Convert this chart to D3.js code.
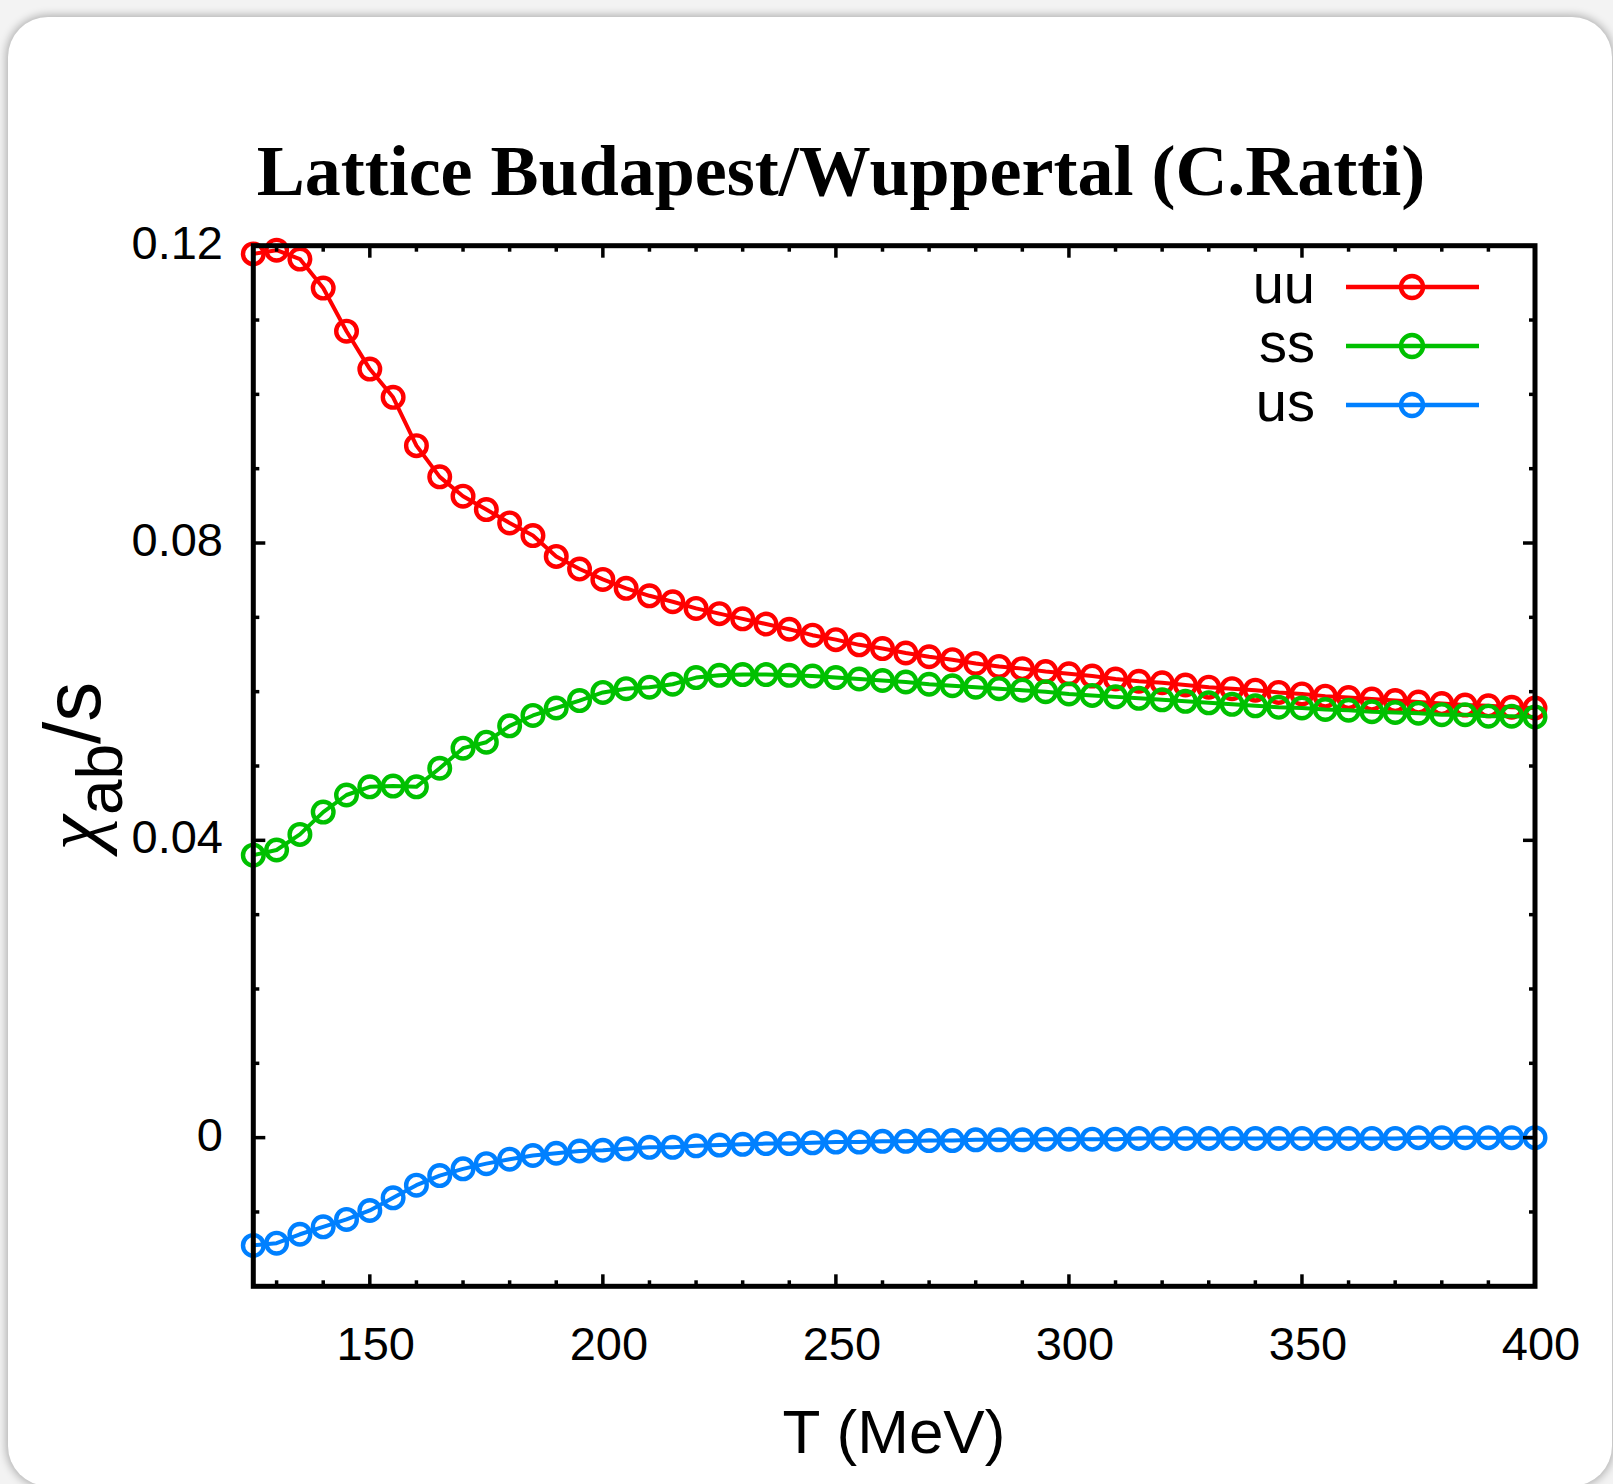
<!DOCTYPE html>
<html>
<head>
<meta charset="utf-8">
<script src="https://cdn.jsdelivr.net/npm/d3@7"></script>
<style>
  html, body { margin: 0; padding: 0; background: #f3f3f3; width: 1613px; height: 1484px; overflow: hidden; }
  #card { position: absolute; left: 8px; top: 17px; width: 1604px; height: 1469px; background: #fff;
          border-radius: 40px; box-shadow: 0 0 9px 2px rgba(0,0,0,0.28); }
  svg { position: absolute; left: 0; top: 0; }
</style>
</head>
<body>
<div id="card"></div>
<svg id="chart" width="1613" height="1484"></svg>
<script>
// ---- data ----
const temperatures = [125,130,135,140,145,150,155,160,165,170,175,180,185,190,195,200,205,210,215,220,
  225,230,235,240,245,250,255,260,265,270,275,280,285,290,295,300,305,310,315,320,
  325,330,335,340,345,350,355,360,365,370,375,380,385,390,395,400];

const uu = [0.1189,0.1194,0.1182,0.1143,0.1085,0.1034,0.0996,0.0931,0.0889,0.0863,
  0.0845,0.0827,0.0810,0.0782,0.0765,0.0751,0.0739,0.0729,0.0721,0.0712,
  0.0705,0.0698,0.0691,0.0684,0.0676,0.0670,0.0663,0.0658,0.0652,0.0647,
  0.0643,0.0638,0.0634,0.0631,0.0627,0.0624,0.0621,0.0617,0.0614,0.0612,
  0.0609,0.0606,0.0604,0.0602,0.0599,0.0597,0.0594,0.0592,0.0590,0.0588,
  0.0586,0.0584,0.0582,0.0581,0.0579,0.0578];

const ss = [0.0380,0.0387,0.0408,0.0438,0.0461,0.0472,0.0473,0.0472,0.0497,0.0524,
  0.0532,0.0554,0.0568,0.0578,0.0588,0.0599,0.0604,0.0606,0.0610,0.0619,
  0.0622,0.0623,0.0623,0.0622,0.0621,0.0619,0.0617,0.0615,0.0613,0.0610,
  0.0608,0.0606,0.0604,0.0602,0.0600,0.0597,0.0595,0.0593,0.0591,0.0589,
  0.0587,0.0585,0.0583,0.0581,0.0579,0.0578,0.0576,0.0575,0.0573,0.0572,
  0.0571,0.0569,0.0569,0.0567,0.0567,0.0566];

const us = [-0.0145,-0.0142,-0.0130,-0.0120,-0.0110,-0.0098,-0.0081,-0.0064,-0.0051,-0.0042,
  -0.0035,-0.0029,-0.0024,-0.0021,-0.0018,-0.0017,-0.0015,-0.0013,-0.0013,-0.0011,
  -0.0010,-0.0009,-0.0008,-0.0008,-0.0007,-0.0006,-0.0006,-0.0005,-0.0005,-0.0004,
  -0.0004,-0.0003,-0.0003,-0.0003,-0.0002,-0.0002,-0.0002,-0.0002,-0.0001,-0.0001,
  -0.0001,-0.0001,-0.0001,-0.0001,-0.0001,-0.0001,-0.0001,-0.0001,-0.0001,-0.0001,
  0.0000,0.0000,0.0000,0.0000,0.0000,0.0000];

const seriesNames = ["uu", "ss", "us"];
const seriesColors = ["#ff0000", "#00c000", "#0080ff"];
const xMajorTicks = [150, 200, 250, 300, 350, 400];
const xMinorTicks = [130,140,160,170,180,190,210,220,230,240,260,270,280,290,310,320,330,340,360,370,380,390];
const yMajorTicks = [0.12, 0.08, 0.04, 0];
const yTickLabels = ["0.12", "0.08", "0.04", "0"];
const yMinorTicks = [0.11, 0.10, 0.09, 0.07, 0.06, 0.05, 0.03, 0.02, 0.01, -0.01];
const titleText = "Lattice Budapest/Wuppertal (C.Ratti)";
const xLabelText = "T (MeV)";

// ---- layout ----
const L = 253.3, R = 1535, T = 245.7, B = 1286.3;
const x = d3.scaleLinear().domain([125, 400]).range([L, R]);
const y = d3.scaleLinear().domain([-0.02, 0.12]).range([B, T]);

const svg = d3.select("#chart");
const sans = "'Liberation Sans', Arial, Helvetica, sans-serif";

// title
svg.append("text").attr("x", 841).attr("y", 195)
  .attr("text-anchor", "middle")
  .style("font-family", "'Liberation Serif', 'Times New Roman', serif")
  .style("font-weight", "bold").style("font-size", "72px")
  .text(titleText);

// data
const seriesData = [uu, ss, us];
const line = d3.line().x((d, i) => x(temperatures[i])).y(d => y(d));
const gData = svg.append("g");
seriesData.forEach((vals, k) => {
  const g = gData.append("g");
  g.append("path").datum(vals).attr("d", line)
    .attr("fill", "none").attr("stroke", seriesColors[k]).attr("stroke-width", 4)
    .attr("stroke-linejoin", "round");
  g.selectAll("circle").data(vals).join("circle")
    .attr("cx", (d, i) => x(temperatures[i])).attr("cy", d => y(d))
    .attr("r", 10.3).attr("fill", "none")
    .attr("stroke", seriesColors[k]).attr("stroke-width", 4.4);
});

// frame
const gAx = svg.append("g").attr("stroke", "#000");
const tickW = 3.5, majLen = 12, minLen = 6;
xMajorTicks.concat(xMinorTicks).forEach(t => {
  const len = xMajorTicks.includes(t) ? majLen : minLen;
  gAx.append("line").attr("x1", x(t)).attr("x2", x(t)).attr("y1", B).attr("y2", B - len).attr("stroke-width", tickW);
  gAx.append("line").attr("x1", x(t)).attr("x2", x(t)).attr("y1", T).attr("y2", T + len).attr("stroke-width", tickW);
});
yMajorTicks.concat(yMinorTicks).forEach(v => {
  const len = yMajorTicks.includes(v) ? majLen : minLen;
  gAx.append("line").attr("y1", y(v)).attr("y2", y(v)).attr("x1", L).attr("x2", L + len).attr("stroke-width", tickW);
  gAx.append("line").attr("y1", y(v)).attr("y2", y(v)).attr("x1", R).attr("x2", R - len).attr("stroke-width", tickW);
});
gAx.append("rect").attr("x", L).attr("y", T).attr("width", R - L).attr("height", B - T)
  .attr("fill", "none").attr("stroke-width", 5);

// tick labels
const gLab = svg.append("g").style("font-family", sans).style("font-size", "47px").attr("fill", "#000");
xMajorTicks.forEach(t => {
  gLab.append("text").attr("x", x(t) + 6).attr("y", 1360).attr("text-anchor", "middle").text(String(t));
});
yMajorTicks.forEach((v, i) => {
  gLab.append("text").attr("x", 223).attr("y", y(v) + 13).attr("text-anchor", "end").text(yTickLabels[i]);
});

// x label
svg.append("text").attr("x", 894).attr("y", 1453).attr("text-anchor", "middle")
  .style("font-family", sans).style("font-size", "62px").text(xLabelText);

// y label: chi_ab / s
const yl = svg.append("text").attr("transform", "translate(100,766) rotate(-90)")
  .attr("text-anchor", "middle").style("font-family", sans).style("font-size", "80px");
yl.append("tspan").style("font-family", "'Liberation Serif', serif").style("font-style", "italic").text("χ");
yl.append("tspan").attr("dy", 22).style("font-size", "64px").text("ab");
yl.append("tspan").attr("dy", -22).text("/s");

// legend
const legY = [287, 346, 405];
const gLeg = svg.append("g");
seriesNames.forEach((name, k) => {
  gLeg.append("text").attr("x", 1315).attr("y", legY[k] + 16).attr("text-anchor", "end")
    .style("font-family", sans).style("font-size", "56px").text(name);
  gLeg.append("line").attr("x1", 1346).attr("x2", 1479).attr("y1", legY[k]).attr("y2", legY[k])
    .attr("stroke", seriesColors[k]).attr("stroke-width", 4.5);
  gLeg.append("circle").attr("cx", 1412).attr("cy", legY[k]).attr("r", 11)
    .attr("fill", "none").attr("stroke", seriesColors[k]).attr("stroke-width", 4.4);
});
</script>
</body>
</html>
